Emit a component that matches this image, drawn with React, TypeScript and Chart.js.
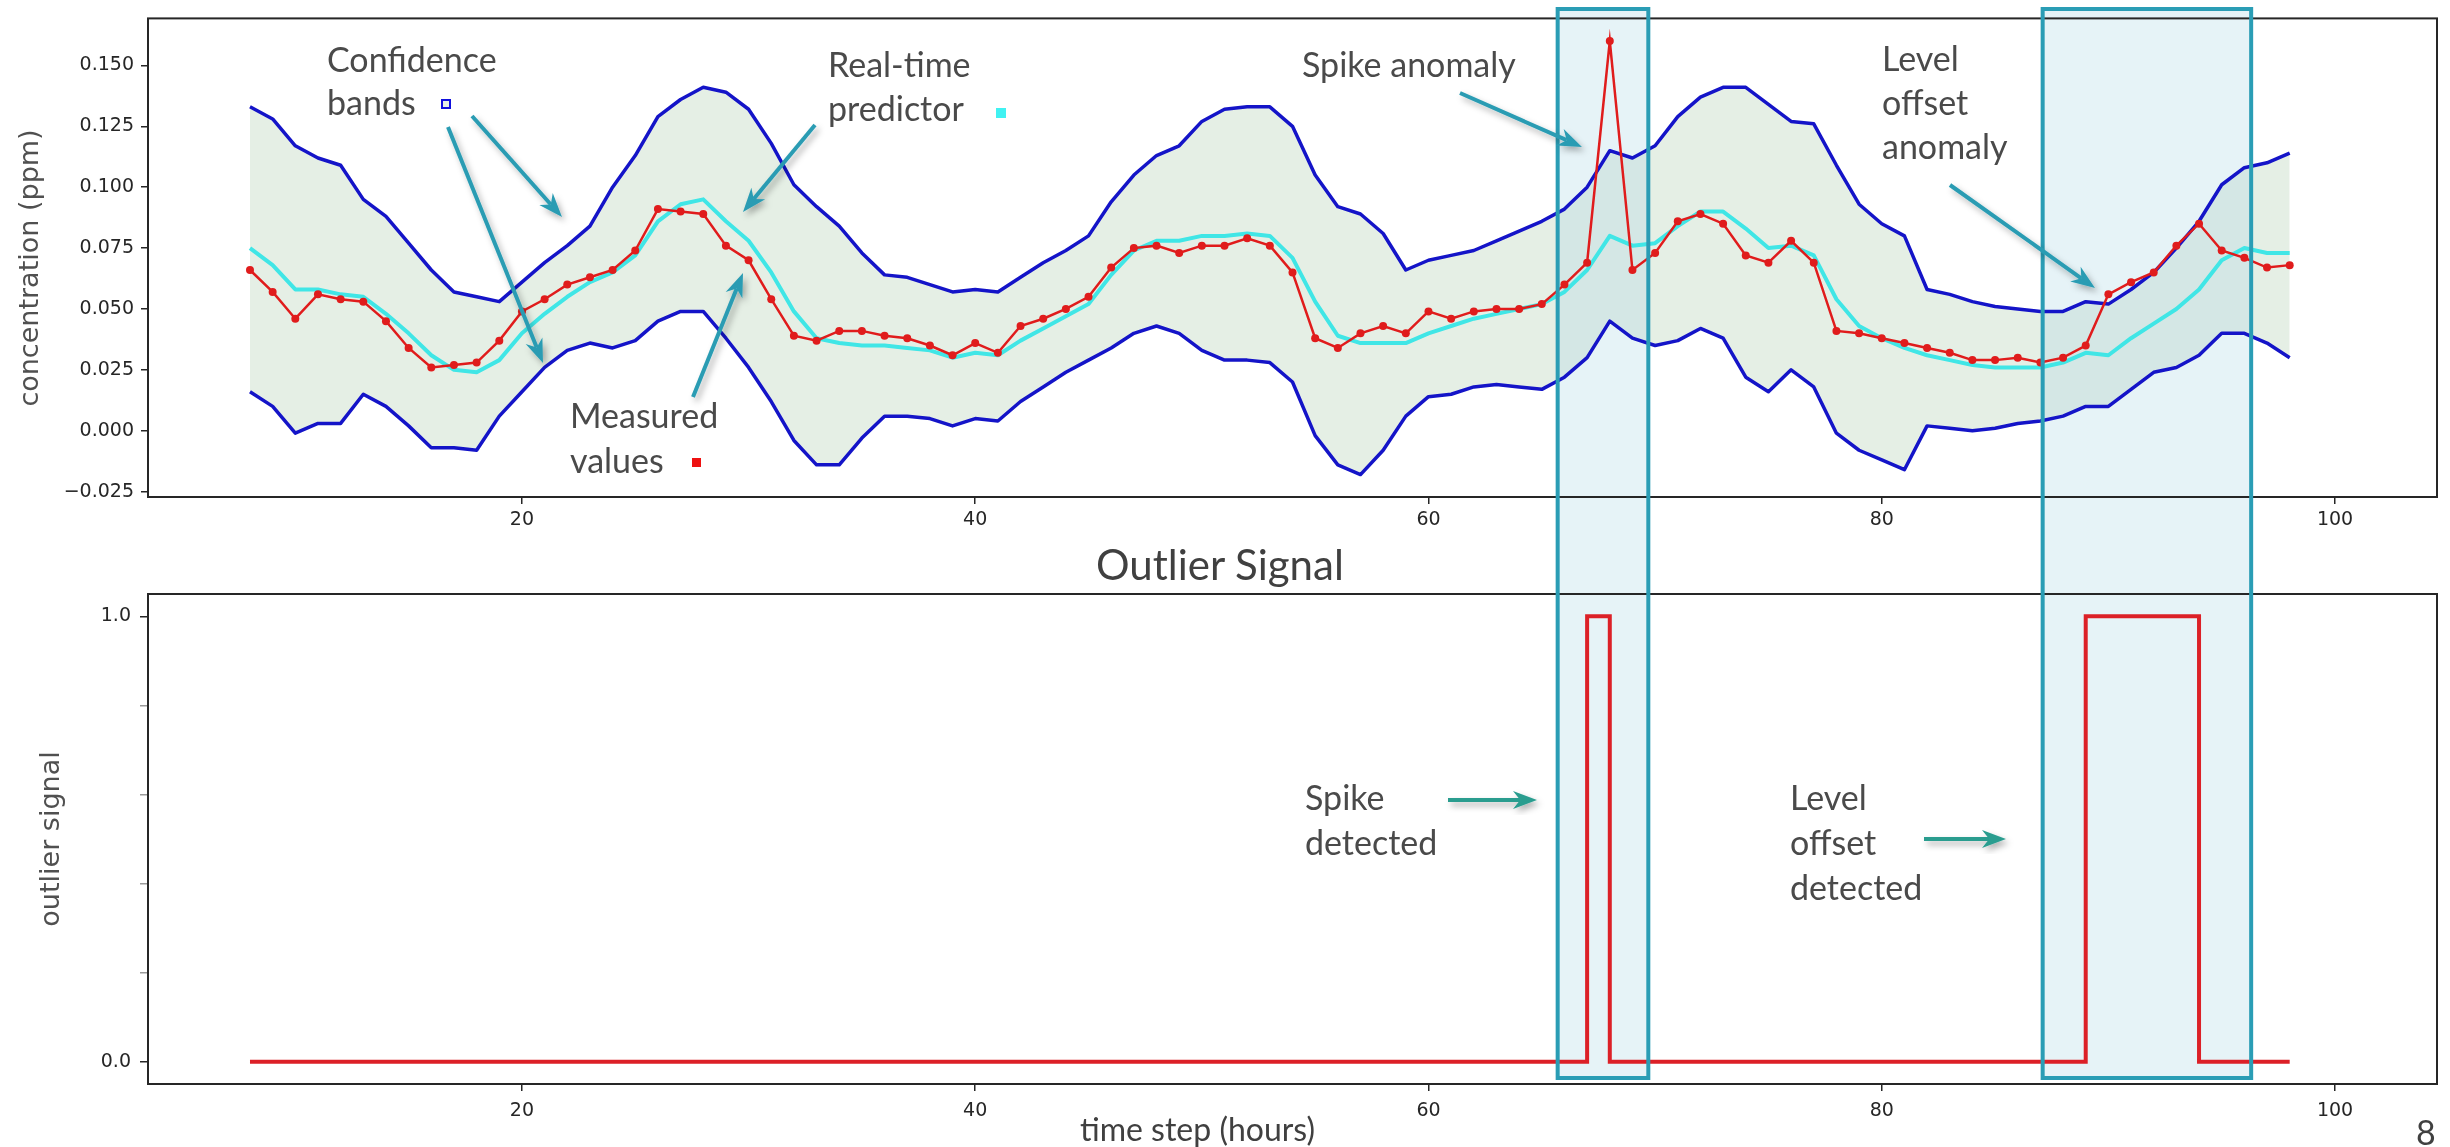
import React, { useEffect, useRef } from 'react';
import { Chart, registerables } from 'chart.js';

Chart.register(...registerables);

// ---------------- data ----------------
const TIME_STEPS = [
  8, 9, 10, 11, 12, 13, 14, 15, 16, 17,
  18, 19, 20, 21, 22, 23, 24, 25, 26, 27,
  28, 29, 30, 31, 32, 33, 34, 35, 36, 37,
  38, 39, 40, 41, 42, 43, 44, 45, 46, 47,
  48, 49, 50, 51, 52, 53, 54, 55, 56, 57,
  58, 59, 60, 61, 62, 63, 64, 65, 66, 67,
  68, 69, 70, 71, 72, 73, 74, 75, 76, 77,
  78, 79, 80, 81, 82, 83, 84, 85, 86, 87,
  88, 89, 90, 91, 92, 93, 94, 95, 96, 97, 98,
];

const MEASURED = [
  0.066, 0.057, 0.046, 0.056, 0.054, 0.053, 0.045, 0.034, 0.026, 0.027,
  0.028, 0.037, 0.049, 0.054, 0.060, 0.063, 0.066, 0.074, 0.091, 0.090,
  0.089, 0.076, 0.070, 0.054, 0.039, 0.037, 0.041, 0.041, 0.039, 0.038,
  0.035, 0.031, 0.036, 0.032, 0.043, 0.046, 0.050, 0.055, 0.067, 0.075,
  0.076, 0.073, 0.076, 0.076, 0.079, 0.076, 0.065, 0.038, 0.034, 0.040,
  0.043, 0.040, 0.049, 0.046, 0.049, 0.050, 0.050, 0.052, 0.060, 0.069,
  0.160, 0.066, 0.073, 0.086, 0.089, 0.085, 0.072, 0.069, 0.078, 0.069,
  0.041, 0.040, 0.038, 0.036, 0.034, 0.032, 0.029, 0.029, 0.030, 0.028,
  0.030, 0.035, 0.056, 0.061, 0.065, 0.076, 0.085, 0.074, 0.071, 0.067, 0.068,
];

const PREDICTOR = [
  0.075, 0.068, 0.058, 0.058, 0.056, 0.055, 0.048, 0.040, 0.031, 0.025,
  0.024, 0.029, 0.040, 0.048, 0.055, 0.061, 0.065, 0.072, 0.086, 0.093,
  0.095, 0.086, 0.078, 0.065, 0.049, 0.038, 0.036, 0.035, 0.035, 0.034,
  0.033, 0.030, 0.032, 0.031, 0.037, 0.042, 0.047, 0.052, 0.064, 0.074,
  0.078, 0.078, 0.080, 0.080, 0.081, 0.080, 0.071, 0.053, 0.039, 0.036,
  0.036, 0.036, 0.040, 0.043, 0.046, 0.048, 0.050, 0.052, 0.057, 0.066,
  0.080, 0.076, 0.077, 0.084, 0.090, 0.090, 0.083, 0.075, 0.076, 0.072,
  0.054, 0.043, 0.038, 0.034, 0.031, 0.029, 0.027, 0.026, 0.026, 0.026,
  0.028, 0.032, 0.031, 0.038, 0.044, 0.050, 0.058, 0.070, 0.075, 0.073, 0.073,
];

const UPPER_BAND = [
  0.133, 0.128, 0.117, 0.112, 0.109, 0.095, 0.088, 0.077, 0.066, 0.057,
  0.055, 0.053, 0.061, 0.069, 0.076, 0.084, 0.100, 0.113, 0.129, 0.136,
  0.141, 0.139, 0.132, 0.118, 0.101, 0.092, 0.084, 0.073, 0.064, 0.063,
  0.060, 0.057, 0.058, 0.057, 0.063, 0.069, 0.074, 0.080, 0.094, 0.105,
  0.113, 0.117, 0.127, 0.132, 0.133, 0.133, 0.125, 0.105, 0.092, 0.089,
  0.081, 0.066, 0.070, 0.072, 0.074, 0.078, 0.082, 0.086, 0.091, 0.100,
  0.115, 0.112, 0.117, 0.129, 0.137, 0.141, 0.141, 0.134, 0.127, 0.126,
  0.109, 0.093, 0.085, 0.080, 0.058, 0.056, 0.053, 0.051, 0.050, 0.049,
  0.049, 0.053, 0.052, 0.058, 0.065, 0.075, 0.086, 0.101, 0.108, 0.110, 0.114,
];

const LOWER_BAND = [
  0.016, 0.010, -0.001, 0.003, 0.003, 0.015, 0.010, 0.002, -0.007, -0.007,
  -0.008, 0.006, 0.016, 0.026, 0.033, 0.036, 0.034, 0.037, 0.045, 0.049,
  0.049, 0.038, 0.026, 0.012, -0.004, -0.014, -0.014, -0.003, 0.006, 0.006,
  0.005, 0.002, 0.005, 0.004, 0.012, 0.018, 0.024, 0.029, 0.034, 0.040,
  0.043, 0.040, 0.033, 0.029, 0.029, 0.028, 0.020, -0.002, -0.014, -0.018,
  -0.008, 0.006, 0.014, 0.015, 0.018, 0.019, 0.018, 0.017, 0.022, 0.030,
  0.045, 0.038, 0.035, 0.037, 0.042, 0.038, 0.022, 0.016, 0.025, 0.018,
  -0.001, -0.008, -0.012, -0.016, 0.002, 0.001, 0.000, 0.001, 0.003, 0.004,
  0.006, 0.010, 0.010, 0.017, 0.024, 0.026, 0.031, 0.040, 0.040, 0.036, 0.030,
];

const OUTLIER_SIGNAL = [
  0, 0, 0, 0, 0, 0, 0, 0, 0, 0,
  0, 0, 0, 0, 0, 0, 0, 0, 0, 0,
  0, 0, 0, 0, 0, 0, 0, 0, 0, 0,
  0, 0, 0, 0, 0, 0, 0, 0, 0, 0,
  0, 0, 0, 0, 0, 0, 0, 0, 0, 0,
  0, 0, 0, 0, 0, 0, 0, 0, 0, 1,
  0, 0, 0, 0, 0, 0, 0, 0, 0, 0,
  0, 0, 0, 0, 0, 0, 0, 0, 0, 0,
  0, 1, 1, 1, 1, 1, 0, 0, 0, 0, 0,
];

// highlighted anomaly windows (in time-step units)
const ANOMALY_WINDOWS: [number, number][] = [
  [65.7, 69.7],
  [87.1, 96.3],
];

const X_TICKS = [20, 40, 60, 80, 100];
const CONC_TICKS = [-0.025, 0, 0.025, 0.05, 0.075, 0.1, 0.125, 0.15];
const SIGNAL_TICKS = [0, 0.2, 0.4, 0.6, 0.8, 1.0];
const SIGNAL_TICK_LABELS = ['0.0', '', '', '', '', '1.0'];

// ---------------- styling ----------------
const X_MIN = 3.5;
const X_MAX = 104.5;
const TICK_FONT = { family: 'DejaVu Sans', size: 19 };
const TICK_COLOR = '#262626';
const BOX_STROKE = '#2a9db5';
const BOX_FILL = 'rgba(173,216,230,0.3)';
const ANNOT_FONT = 'Lato';
const ANNOT_COLOR = '#4a4a4a';

const pts = (vals: number[]) => TIME_STEPS.map((t, i) => ({ x: t, y: vals[i] }));

const fmtConc = (v: number) => {
  const s = Math.abs(v).toFixed(3);
  return v < -1e-9 ? '\u2212' + s : s;
};

function frameAndBoxesPlugin(part: 'top' | 'bottom', boxEdge: number) {
  const span = (chart: any) => {
    const yA = part === 'top' ? boxEdge : 0;
    const yB = part === 'top' ? chart.height : boxEdge;
    return [yA, yB];
  };
  return {
    id: 'frameAndBoxes_' + part,
    beforeDatasetsDraw(chart: any) {
      const { ctx } = chart;
      const xs = chart.scales.x;
      const [yA, yB] = span(chart);
      ctx.save();
      for (const [w0, w1] of ANOMALY_WINDOWS) {
        const p0 = xs.getPixelForValue(w0);
        const p1 = xs.getPixelForValue(w1);
        ctx.fillStyle = BOX_FILL;
        ctx.fillRect(p0, yA, p1 - p0, yB - yA);
      }
      ctx.restore();
    },
    afterDraw(chart: any) {
      const { ctx, chartArea: a } = chart;
      const xs = chart.scales.x;
      const [yA, yB] = span(chart);
      ctx.save();
      ctx.strokeStyle = '#262626';
      ctx.lineWidth = 2;
      ctx.strokeRect(a.left, a.top, a.right - a.left, a.bottom - a.top);
      for (const [w0, w1] of ANOMALY_WINDOWS) {
        const p0 = xs.getPixelForValue(w0);
        const p1 = xs.getPixelForValue(w1);
        ctx.strokeStyle = BOX_STROKE;
        ctx.lineWidth = 4;
        ctx.lineJoin = 'miter';
        ctx.beginPath();
        if (part === 'top') {
          ctx.moveTo(p0, yB);
          ctx.lineTo(p0, yA);
          ctx.lineTo(p1, yA);
          ctx.lineTo(p1, yB);
        } else {
          ctx.moveTo(p0, yA);
          ctx.lineTo(p0, yB);
          ctx.lineTo(p1, yB);
          ctx.lineTo(p1, yA);
        }
        ctx.stroke();
      }
      ctx.restore();
    },
  };
}

function xScale(pad: number) {
  return {
    type: 'linear' as const,
    min: X_MIN,
    max: X_MAX,
    afterBuildTicks: (s: any) => {
      s.ticks = X_TICKS.map((v) => ({ value: v }));
    },
    afterFit: (s: any) => {
      s.height = 63;
    },
    grid: { display: true, drawOnChartArea: false, drawTicks: true, tickLength: 7, color: TICK_COLOR, lineWidth: 1.5 },
    border: { display: false },
    ticks: {
      font: TICK_FONT,
      color: TICK_COLOR,
      padding: pad,
      maxRotation: 0,
      autoSkip: false,
      callback: (v: any) => String(v),
    },
  };
}

function Arrow({ x1, y1, x2, y2, color }: { x1: number; y1: number; x2: number; y2: number; color: string }) {
  const dx = x2 - x1;
  const dy = y2 - y1;
  const L = Math.hypot(dx, dy);
  const ux = dx / L;
  const uy = dy / L;
  const nx = -uy;
  const ny = ux;
  const hl = 24;
  const hw = 9;
  const bx = x2 - ux * hl;
  const by = y2 - uy * hl;
  const mx = x2 - ux * hl * 0.7;
  const my = y2 - uy * hl * 0.7;
  const poly = `${x2},${y2} ${bx + nx * hw},${by + ny * hw} ${mx},${my} ${bx - nx * hw},${by - ny * hw}`;
  return (
    <g filter="url(#arrowShadow)">
      <line x1={x1} y1={y1} x2={mx} y2={my} stroke={color} strokeWidth={4} />
      <polygon points={poly} fill={color} />
    </g>
  );
}

const TEAL = '#2b9cb3';
const GREEN_TEAL = '#2a9d8f';

const ARROWS = [
  { x1: 472, y1: 116, x2: 562, y2: 217, color: TEAL },
  { x1: 448, y1: 127, x2: 543, y2: 363, color: TEAL },
  { x1: 815, y1: 125, x2: 743, y2: 212, color: TEAL },
  { x1: 693, y1: 397, x2: 743, y2: 273, color: TEAL },
  { x1: 1460, y1: 93, x2: 1582, y2: 147, color: TEAL },
  { x1: 1950, y1: 185, x2: 2095, y2: 288, color: TEAL },
  { x1: 1448, y1: 800, x2: 1537, y2: 800, color: GREEN_TEAL },
  { x1: 1924, y1: 839, x2: 2006, y2: 839, color: GREEN_TEAL },
];

const LABELS = [
  { t: 'Confidence', x: 327, y: 72 },
  { t: 'bands', x: 327, y: 115 },
  { t: 'Real-time', x: 828, y: 77 },
  { t: 'predictor', x: 828, y: 121 },
  { t: 'Measured', x: 570, y: 428 },
  { t: 'values', x: 570, y: 473 },
  { t: 'Spike anomaly', x: 1302, y: 77 },
  { t: 'Level', x: 1882, y: 71 },
  { t: 'offset', x: 1882, y: 115 },
  { t: 'anomaly', x: 1882, y: 159 },
  { t: 'Spike', x: 1305, y: 810 },
  { t: 'detected', x: 1305, y: 855 },
  { t: 'Level', x: 1790, y: 810 },
  { t: 'offset', x: 1790, y: 855 },
  { t: 'detected', x: 1790, y: 900 },
];

export default function App() {
  const topRef = useRef<HTMLCanvasElement>(null);
  const botRef = useRef<HTMLCanvasElement>(null);

  useEffect(() => {
    const topChart = new Chart(topRef.current as HTMLCanvasElement, {
      type: 'line',
      data: {
        datasets: [
          {
            label: 'Measured values',
            data: pts(MEASURED),
            borderColor: '#e01c1c',
            backgroundColor: '#e01c1c',
            borderWidth: 2.5,
            pointRadius: 4,
            pointBorderWidth: 0,
            pointBackgroundColor: '#e01c1c',
            fill: false,
            tension: 0,
          },
          {
            label: 'Real-time predictor',
            data: pts(PREDICTOR),
            borderColor: '#40e6e6',
            borderWidth: 4,
            pointRadius: 0,
            fill: false,
            tension: 0,
            borderJoinStyle: 'round',
          },
          {
            label: 'Upper confidence band',
            data: pts(UPPER_BAND),
            borderColor: '#1414c8',
            borderWidth: 3.5,
            pointRadius: 0,
            fill: '+1',
            backgroundColor: 'rgba(0,100,0,0.1)',
            tension: 0,
            borderJoinStyle: 'round',
          },
          {
            label: 'Lower confidence band',
            data: pts(LOWER_BAND),
            borderColor: '#1414c8',
            borderWidth: 3.5,
            pointRadius: 0,
            fill: false,
            tension: 0,
            borderJoinStyle: 'round',
          },
        ],
      },
      options: {
        animation: false,
        responsive: false,
        layout: { padding: { left: 0, right: 13, top: 6, bottom: 0 } },
        plugins: {
          legend: { display: false },
          tooltip: { enabled: false },
          filler: { propagate: false, drawTime: 'beforeDatasetsDraw' },
        },
        scales: {
          x: xScale(5),
          y: {
            type: 'linear',
            min: -0.0272,
            max: 0.1693,
            afterBuildTicks: (s: any) => {
              s.ticks = CONC_TICKS.map((v) => ({ value: v }));
            },
            afterFit: (s: any) => {
              s.width = 148;
            },
            grid: { display: true, drawOnChartArea: false, drawTicks: true, tickLength: 7, color: TICK_COLOR, lineWidth: 1.5 },
            border: { display: false },
            ticks: { font: TICK_FONT, color: TICK_COLOR, padding: 7, callback: (v: any) => fmtConc(Number(v)) },
          },
        },
      } as any,
      plugins: [frameAndBoxesPlugin('top', 9)],
    });

    const botChart = new Chart(botRef.current as HTMLCanvasElement, {
      type: 'line',
      data: {
        datasets: [
          {
            label: 'Outlier signal',
            data: pts(OUTLIER_SIGNAL),
            borderColor: '#dc2027',
            borderWidth: 4,
            pointRadius: 0,
            fill: false,
            stepped: 'before',
          },
        ],
      },
      options: {
        animation: false,
        responsive: false,
        layout: { padding: { left: 0, right: 13, top: 34, bottom: 0 } },
        plugins: { legend: { display: false }, tooltip: { enabled: false } },
        scales: {
          x: xScale(9),
          y: {
            type: 'linear',
            min: -0.05,
            max: 1.05,
            afterBuildTicks: (s: any) => {
              s.ticks = SIGNAL_TICKS.map((v) => ({ value: v }));
            },
            afterFit: (s: any) => {
              s.width = 148;
            },
            grid: {
              display: true,
              drawOnChartArea: false,
              drawTicks: true,
              tickLength: 8,
              lineWidth: 1.5,
              color: (c: any) => (c.index === 0 || c.index === SIGNAL_TICKS.length - 1 ? TICK_COLOR : '#9a9a9a'),
            },
            border: { display: false },
            ticks: {
              font: TICK_FONT,
              color: TICK_COLOR,
              padding: 9,
              callback: (_v: any, i: number) => SIGNAL_TICK_LABELS[i],
            },
          },
        },
      } as any,
      plugins: [frameAndBoxesPlugin('bottom', 518)],
    });

    return () => {
      topChart.destroy();
      botChart.destroy();
    };
  }, []);

  return (
    <div style={{ position: 'absolute', left: 0, top: 0, width: 2450, height: 1147, background: '#ffffff', overflow: 'hidden' }}>
      <div style={{ position: 'absolute', left: 0, top: 0, width: 2450, height: 560 }}>
        <canvas ref={topRef} width={2450} height={560} style={{ display: 'block' }} />
      </div>
      <div style={{ position: 'absolute', left: 0, top: 560, width: 2450, height: 587 }}>
        <canvas ref={botRef} width={2450} height={587} style={{ display: 'block' }} />
      </div>
      <svg
        width={2450}
        height={1147}
        style={{ position: 'absolute', left: 0, top: 0, pointerEvents: 'none' }}
      >
        <defs>
          <filter id="arrowShadow" x="-30%" y="-30%" width="160%" height="160%">
            <feDropShadow dx="3" dy="4" stdDeviation="3" floodColor="#000" floodOpacity="0.3" />
          </filter>
        </defs>
        <text
          transform="translate(38,268) rotate(-90)"
          textAnchor="middle"
          fontFamily="DejaVu Sans"
          fontSize={27}
          fill="#505050"
        >
          concentration (ppm)
        </text>
        <text
          transform="translate(59,839) rotate(-90)"
          textAnchor="middle"
          fontFamily="DejaVu Sans"
          fontSize={27}
          fill="#505050"
        >
          outlier signal
        </text>
        {LABELS.map((l, i) => (
          <text key={i} x={l.x} y={l.y} fontFamily={ANNOT_FONT} fontSize={34} fill={ANNOT_COLOR}>
            {l.t}
          </text>
        ))}
        <rect x={442} y={100} width={8} height={8} fill="#e6efe6" stroke="#1010dd" strokeWidth={2} />
        <rect x={996} y={108} width={10} height={10} fill="#40f2f2" />
        <rect x={692} y={458} width={9} height={9} fill="#ee1111" />
        {ARROWS.map((a, i) => (
          <Arrow key={i} {...a} />
        ))}
        <text x={1096} y={580} fontFamily={ANNOT_FONT} fontSize={42} fill="#404040">
          Outlier Signal
        </text>
        <text x={1080} y={1141} fontFamily={ANNOT_FONT} fontSize={32} fill="#404040">
          time step (hours)
        </text>
        <text x={2416} y={1145} fontFamily={ANNOT_FONT} fontSize={34} fill="#404040">
          8
        </text>
      </svg>
    </div>
  );
}
